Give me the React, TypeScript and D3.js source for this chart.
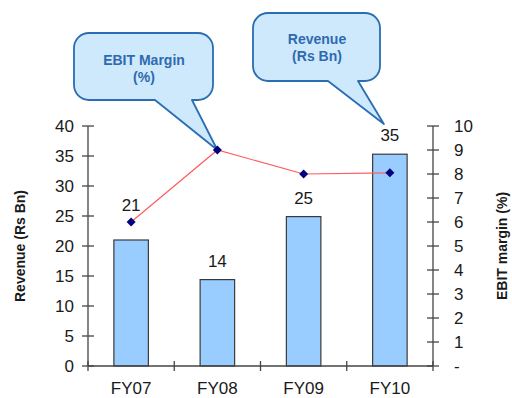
import React from 'react';
import * as d3 from 'd3';

const years = ['FY07', 'FY08', 'FY09', 'FY10'];
const revenue = [21, 14.4, 24.9, 35.3];
const revenueLabels = ['21', '14', '25', '35'];
const ebitMargin = [6, 9, 8, 8.05];
const leftTicks = [0, 5, 10, 15, 20, 25, 30, 35, 40];
const rightTicks = [0, 1, 2, 3, 4, 5, 6, 7, 8, 9, 10];

const W = 512;
const H = 398;
const margin = { top: 126, left: 88, bottom: 32, right: 79 };
const FONT = '"Liberation Sans", Arial, sans-serif';

function callout(x0: number, y0: number, x1: number, y1: number, r: number,
  px0: number, px1: number, tx: number, ty: number) {
  return `M${x0 + r},${y0} H${x1 - r} A${r},${r} 0 0 1 ${x1},${y0 + r} V${y1 - r}` +
    ` A${r},${r} 0 0 1 ${x1 - r},${y1} H${px1} L${tx},${ty} L${px0},${y1} H${x0 + r}` +
    ` A${r},${r} 0 0 1 ${x0},${y1 - r} V${y0 + r} A${r},${r} 0 0 1 ${x0 + r},${y0} Z`;
}

export default function App() {
  const x0 = margin.left;
  const x1 = W - margin.right;
  const yBottom = H - margin.bottom;

  const x = d3.scaleBand<string>()
    .domain(years)
    .range([x0, x1])
    .paddingInner(0.6)
    .paddingOuter(0.3);
  const step = x.step();
  const cx = (d: string) => (x(d) as number) + x.bandwidth() / 2;

  const y = d3.scaleLinear().domain([0, 40]).range([yBottom, margin.top]);
  const yR = d3.scaleLinear().domain([0, 10]).range([yBottom, margin.top]);

  const line = d3.line<number>()
    .x((_, i) => cx(years[i]))
    .y(d => yR(d));

  // squarer diamond than d3.symbolDiamond
  const dm = 4.5;
  const diamond = `M0,${-dm} L${dm},0 L0,${dm} L${-dm},0 Z`;

  const labelY = (i: number) => {
    const base = y(revenue[i]) - 13;
    const my = yR(ebitMargin[i]);
    return Math.abs(base - 5 - my) < 12 ? my - 11 : base;
  };

  const tickColor = '#444';
  const textColor = '#1a1a1a';
  const boxFill = '#cde9fb';
  const boxStroke = '#2a6db3';
  const boxText = '#2f6ab0';

  return (
    <svg width={W} height={H} style={{ position: 'absolute', left: 0, top: 0, background: '#fff' }}
      fontFamily={FONT}>
      {/* bars */}
      {years.map((d, i) => (
        <rect key={d} x={x(d)} y={y(revenue[i])} width={x.bandwidth()}
          height={yBottom - y(revenue[i])} fill="#99ccff" stroke="#3a3a3a" strokeWidth={1.2} />
      ))}

      {/* left axis */}
      <line x1={x0} x2={x0} y1={margin.top} y2={yBottom} stroke={tickColor} strokeWidth={1.3} />
      {leftTicks.map(t => (
        <g key={'l' + t}>
          <line x1={x0 - 6} x2={x0 + 6} y1={y(t)} y2={y(t)} stroke={tickColor} strokeWidth={1.3} />
          <text x={x0 - 14} y={y(t)} dy="0.36em" textAnchor="end" fontSize={17} fill={textColor}>{t}</text>
        </g>
      ))}

      {/* right axis */}
      <line x1={x1} x2={x1} y1={margin.top} y2={yBottom} stroke={tickColor} strokeWidth={1.3} />
      {rightTicks.map(t => (
        <g key={'r' + t}>
          <line x1={x1 - 6} x2={x1 + 6} y1={yR(t)} y2={yR(t)} stroke={tickColor} strokeWidth={1.3} />
          <text x={x1 + 21} y={yR(t)} dy="0.36em" textAnchor="start" fontSize={17} fill={textColor}>
            {t === 0 ? '-' : t}
          </text>
        </g>
      ))}

      {/* x axis */}
      <line x1={x0} x2={x1} y1={yBottom} y2={yBottom} stroke={tickColor} strokeWidth={1.3} />
      {d3.range(years.length + 1).map(i => (
        <line key={'xt' + i} x1={x0 + i * step} x2={x0 + i * step} y1={yBottom - 5} y2={yBottom + 5}
          stroke={tickColor} strokeWidth={1.3} />
      ))}
      {years.map(d => (
        <text key={'xl' + d} x={cx(d)} y={yBottom + 28} textAnchor="middle" fontSize={17} fill={textColor}>{d}</text>
      ))}

      {/* axis titles */}
      <text transform={`translate(25,${(margin.top + yBottom) / 2}) rotate(-90)`} textAnchor="middle"
        fontSize={14} fontWeight="bold" fill={textColor}>Revenue (Rs Bn)</text>
      <text transform={`translate(507,${(margin.top + yBottom) / 2}) rotate(-90)`} textAnchor="middle"
        fontSize={14} fontWeight="bold" fill={textColor}>EBIT margin (%)</text>

      {/* callouts */}
      <path d={callout(74, 33, 213, 100, 15, 155, 192, cx('FY08'), yR(ebitMargin[1]))}
        fill={boxFill} stroke={boxStroke} strokeWidth={1.8} strokeLinejoin="round" />
      <text x={144} y={65} textAnchor="middle" fontSize={14} fontWeight="bold" fill={boxText}>EBIT Margin</text>
      <text x={144} y={82} textAnchor="middle" fontSize={14} fontWeight="bold" fill={boxText}>(%)</text>

      <path d={callout(253, 13, 380, 81, 15, 328, 358, cx('FY10') - 6, y(40) - 2)}
        fill={boxFill} stroke={boxStroke} strokeWidth={1.8} strokeLinejoin="round" />
      <text x={317} y={44} textAnchor="middle" fontSize={14} fontWeight="bold" fill={boxText}>Revenue</text>
      <text x={317} y={61} textAnchor="middle" fontSize={14} fontWeight="bold" fill={boxText}>(Rs Bn)</text>

      {/* EBIT margin line */}
      <path d={line(ebitMargin) || ''} fill="none" stroke="#ff5c5c" strokeWidth={1.2} />
      {ebitMargin.map((v, i) => (
        <path key={'m' + i} d={diamond} transform={`translate(${cx(years[i])},${yR(v)})`} fill="#000080" />
      ))}

      {/* revenue labels */}
      {years.map((d, i) => (
        <text key={'v' + d} x={cx(d)} y={labelY(i)} textAnchor="middle" fontSize={17} fill={textColor}>
          {revenueLabels[i]}
        </text>
      ))}
    </svg>
  );
}
